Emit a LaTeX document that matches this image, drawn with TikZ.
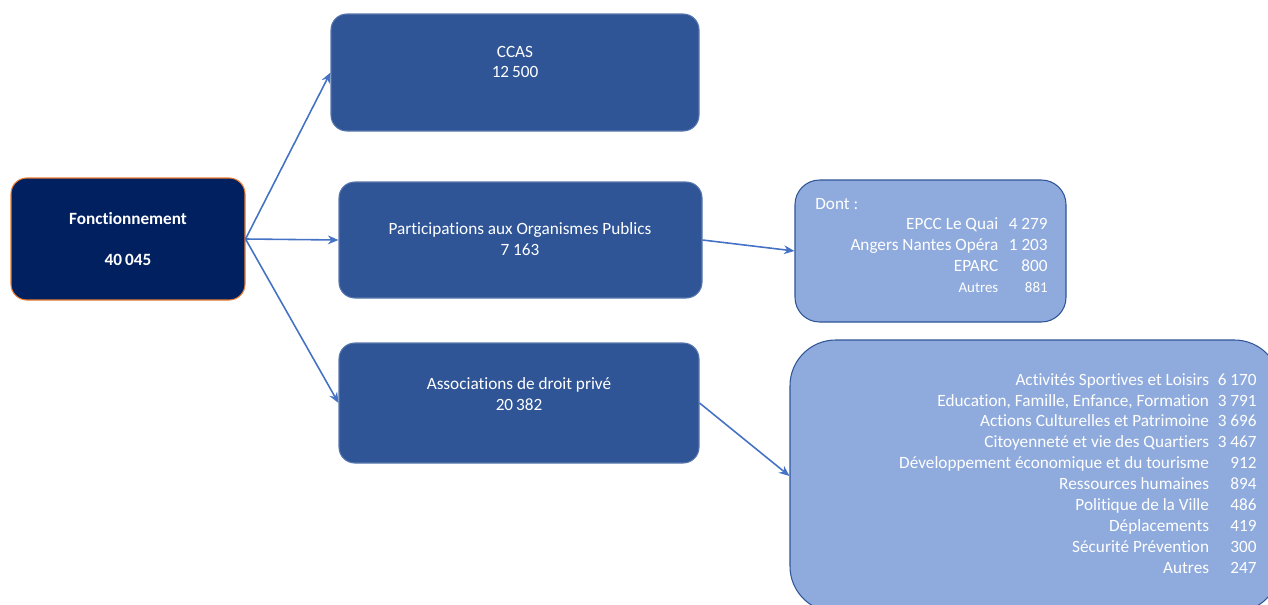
\documentclass[tikz,border=0pt]{standalone}
\usepackage{fontspec}
\setmainfont{Carlito}[Ligatures=NoCommon]
\usepackage{tikz}
\usetikzlibrary{calc}
\usetikzlibrary{arrows.meta}

\definecolor{navy}{HTML}{002060}
\definecolor{midblue}{HTML}{2F5597}
\definecolor{lightblue}{HTML}{8FAADC}
\definecolor{arrowblue}{HTML}{4472C4}
\definecolor{edgeorange}{HTML}{ED7D31}

\tikzset{
  rootbox/.style={draw=edgeorange, fill=navy, rounded corners=9pt, line width=0.6pt},
  mainbox/.style={draw=midblue!80!white, fill=midblue, rounded corners=9pt, line width=0.6pt},
  detailbox/.style={draw=midblue, fill=lightblue, line width=0.6pt},
  boxtext/.style={text=white, font=\fontsize{9.8}{11.9}\selectfont, align=center, inner sep=0pt},
  link/.style={draw=arrowblue, line width=0.9pt, -{Stealth[length=6pt,width=5pt]}}
}

\begin{document}
\begin{tikzpicture}[x=0.02cm, y=-0.02cm]
    \clip (0,0) rectangle (1268,605);
    \useasboundingbox (0,0) rectangle (1268,605);

    % Draw the boxes
    \node[rootbox, minimum width=234*0.02cm, minimum height=122*0.02cm] (fonc) at (128,239) {};
    \node[mainbox, minimum width=368*0.02cm, minimum height=117*0.02cm] (ccas) at (515,72.5) {};
    \node[mainbox, minimum width=363*0.02cm, minimum height=116*0.02cm] (part) at (520.5,240) {};
    \node[mainbox, minimum width=360*0.02cm, minimum height=120*0.02cm] (assoc) at (519,403) {};
    \node[detailbox, rounded corners=14pt, minimum width=271*0.02cm, minimum height=142*0.02cm] (dont) at (930.5,251) {};
    \node[detailbox, rounded corners=26pt, minimum width=490*0.02cm, minimum height=272*0.02cm] (detail) at (1035,476) {};

    % Texts of the boxes
    \node[boxtext, font=\fontsize{9.8}{11.9}\selectfont\bfseries] (fonctxt) at (fonc) {Fonctionnement\\[11.9pt]40\,045};
    \node[boxtext] (ccastxt) at (515,62) {CCAS\\12\,500};
    \node[boxtext] (parttxt) at (520,239.5) {Participations aux Organismes Publics\\7 163};
    \node[boxtext] (assoctxt) at (519,394) {Associations de droit privé\\20\,382};

    % Details of the public bodies
    \node[boxtext, anchor=west] (donthead) at (815,204) {Dont :};
    \node[boxtext, anchor=east] (donttab) at (1048,257) {%
      \begin{tabular}{@{}r@{\hspace{6pt}}r@{}}
        EPCC Le Quai & 4 279\\
        Angers Nantes Opéra & 1 203\\
        EPARC & 800\\
        {\fontsize{8.5}{11.9}\selectfont Autres} & {\fontsize{8.5}{11.9}\selectfont 881}
      \end{tabular}};

    % Details of the associations
    \node[boxtext, anchor=east] (detailtab) at (1257,475) {%
      \begin{tabular}{@{}r@{\hspace{5pt}}r@{}}
        Activités Sportives et Loisirs & 6 170\\
        Education, Famille, Enfance, Formation & 3 791\\
        Actions Culturelles et Patrimoine & 3 696\\
        Citoyenneté et vie des Quartiers & 3 467\\
        Développement économique et du tourisme & 912\\
        Ressources humaines & 894\\
        Politique de la Ville & 486\\
        Déplacements & 419\\
        Sécurité Prévention & 300\\
        Autres & 247
      \end{tabular}};

    % Draw the links
    \draw[link] (fonc.east) -- (ccas.west);
    \draw[link] (fonc.east) -- (part.west);
    \draw[link] (fonc.east) -- (assoc.west);
    \draw[link] (part.east) -- (dont.west);
    \draw[link] (assoc.east) -- (detail.west);
\end{tikzpicture}
\end{document}
